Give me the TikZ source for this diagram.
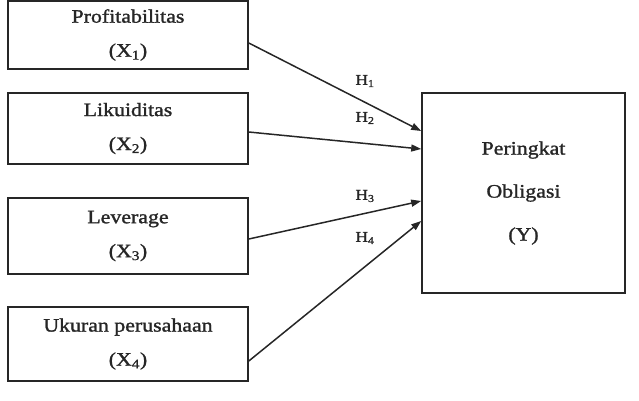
\documentclass[tikz,border=0pt]{standalone}
\usepackage{fontspec}
\setmainfont[FakeStretch=1.15,FakeBold=1.4]{Liberation Serif}
\usetikzlibrary{arrows.meta}
\definecolor{ink}{HTML}{262626}
\begin{document}
\begin{tikzpicture}[x=1pt,y=-1pt,
  varbox/.style={draw=ink,line width=1.6pt,rectangle,minimum width=240pt,align=center,text=ink,inner sep=0pt,font=\fontsize{19}{34}\selectfont},
  ybox/.style={draw=ink,line width=1.6pt,rectangle,minimum width=203pt,minimum height=200pt,align=center,text=ink,inner sep=0pt,font=\fontsize{19}{43}\selectfont},
  hyp/.style={text=ink,font=\fontsize{15}{16}\selectfont,inner sep=0pt},
  link/.style={draw=ink,line width=1.5pt,-{Triangle[length=10pt,width=7pt]}}]
\useasboundingbox (0,0) rectangle (639,400);
\node[varbox,minimum height=68pt] (b1) at (128,35) {Profitabilitas\\(X\textsubscript{1})};
\node[varbox,minimum height=71pt] (b2) at (128,128.5) {Likuiditas\\(X\textsubscript{2})};
\node[varbox,minimum height=76pt] (b3) at (128,236) {Leverage\\(X\textsubscript{3})};
\node[varbox,minimum height=74pt] (b4) at (128,344) {Ukuran perusahaan\\(X\textsubscript{4})};
\node[ybox] (y) at (523.5,193) {Peringkat\\Obligasi\\(Y)};
\draw[link] ([yshift=-8pt]b1.east) -- ([yshift=62pt]y.west);
\draw[link] ([yshift=-3.5pt]b2.east) -- ([yshift=44pt]y.west);
\draw[link] ([yshift=-3pt]b3.east) -- ([yshift=-8pt]y.west);
\draw[link] ([yshift=-17pt]b4.east) -- ([yshift=-28pt]y.west);
\node[hyp] (h1) at (365,81) {H\textsubscript{1}};
\node[hyp] (h2) at (365,118) {H\textsubscript{2}};
\node[hyp] (h3) at (365,196) {H\textsubscript{3}};
\node[hyp] (h4) at (365,238) {H\textsubscript{4}};
\end{tikzpicture}
\end{document}
